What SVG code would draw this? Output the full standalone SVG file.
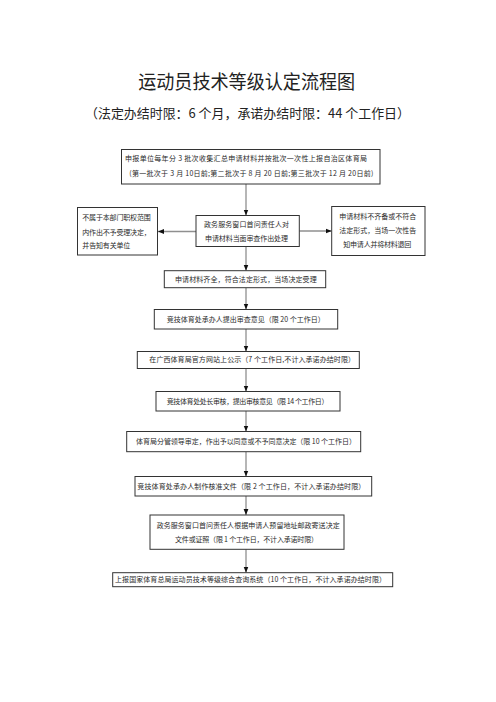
<svg xmlns="http://www.w3.org/2000/svg" width="496" height="702" viewBox="0 0 496 702">
<style>
.bg{fill:#ffffff}
.box{fill:#ffffff;stroke:#333333;stroke-width:1}
.t{font-family:"Noto Sans CJK SC","Noto Sans",sans-serif;font-size:7px;fill:#2a2a2a;lengthAdjust:spacing}
.title{font-family:"Noto Sans CJK SC","Noto Sans",sans-serif;font-size:19.5px;fill:#222222;text-anchor:middle}
.sub{font-family:"Noto Sans CJK SC","Noto Sans",sans-serif;font-size:13px;fill:#222222;text-anchor:middle}
.c{fill:none;stroke:#8f8f8f;stroke-width:1.3;marker-end:url(#ah)}
</style>
<defs>
<marker id="ah" markerUnits="userSpaceOnUse" markerWidth="6" markerHeight="6" viewBox="0 0 6 6" refX="6" refY="3" orient="auto">
<path d="M0,0.6 L6,3 L0,5.4 Z" fill="#111111"/>
</marker>
</defs>
<rect class="bg" x="0" y="0" width="496" height="702"/>
<text class="title" x="246.7" y="89" textLength="217" lengthAdjust="spacingAndGlyphs">运动员技术等级认定流程图</text>
<text class="sub" x="247.5" y="118" textLength="325" lengthAdjust="spacingAndGlyphs">（法定办结时限：6 个月，承诺办结时限：44 个工作日）</text>

<g id="connectors">
<line class="c" x1="246" y1="184" x2="246" y2="215.5"/>
<line class="c" x1="196" y1="231.5" x2="158" y2="231.5"/>
<line class="c" x1="299.3" y1="231" x2="331.7" y2="231"/>
<line class="c" x1="246" y1="246.5" x2="246" y2="270.7"/>
<line class="c" x1="246" y1="287.7" x2="246" y2="309.5"/>
<line class="c" x1="246" y1="329" x2="246" y2="351.5"/>
<line class="c" x1="246" y1="368.3" x2="246" y2="391.5"/>
<line class="c" x1="246" y1="411" x2="246" y2="431.5"/>
<line class="c" x1="246" y1="451.7" x2="246" y2="476.5"/>
<line class="c" x1="246" y1="496" x2="246" y2="515"/>
<line class="c" x1="246" y1="549.3" x2="246" y2="572.7"/>
</g>

<g id="n1">
<rect class="box" x="121.5" y="149.5" width="258.5" height="34.5"/>
<text class="t" x="125" y="161" textLength="242" lengthAdjust="spacing">申报单位每年分 3 批次收集汇总申请材料并按批次一次性上报自治区体育局</text>
<text class="t" x="129.3" y="176" textLength="244" lengthAdjust="spacing">(第一批次于 3 月 10日前;第二批次于 8 月 20 日前;第三批次于 12 月 20日前)</text>
</g>

<g id="n2">
<rect class="box" x="77.5" y="207.5" width="80" height="47.5"/>
<text class="t" x="82.3" y="219.5" textLength="68.4" lengthAdjust="spacing">不属于本部门职权范围</text>
<text class="t" x="82.3" y="234.5" textLength="68.4" lengthAdjust="spacing">内作出不予受理决定，</text>
<text class="t" x="82.3" y="248" textLength="48" lengthAdjust="spacing">并告知有关单位</text>
</g>

<g id="n3">
<rect class="box" x="196" y="215.5" width="103.3" height="31"/>
<text class="t" x="204" y="227" textLength="85" lengthAdjust="spacing">政务服务窗口首问责任人对</text>
<text class="t" x="205" y="241" textLength="83" lengthAdjust="spacing">申请材料当面审查作出处理</text>
</g>

<g id="n4">
<rect class="box" x="331.7" y="206.5" width="93.3" height="49"/>
<text class="t" x="339.3" y="219.4" textLength="77" lengthAdjust="spacing">申请材料不齐备或不符合</text>
<text class="t" x="339.3" y="233.4" textLength="77" lengthAdjust="spacing">法定形式，当场一次性告</text>
<text class="t" x="343.3" y="247.4" textLength="68" lengthAdjust="spacing">知申请人并将材料退回</text>
</g>

<g id="n5">
<rect class="box" x="164.3" y="270.7" width="161.4" height="17"/>
<text class="t" x="175" y="281.7" textLength="141.7" lengthAdjust="spacing">申请材料齐全，符合法定形式，当场决定受理</text>
</g>

<g id="n6">
<rect class="box" x="154.3" y="309.5" width="183.4" height="19.5"/>
<text class="t" x="166.7" y="322" textLength="158" lengthAdjust="spacing">竞技体育处承办人提出审查意见（限 20 个工作日）</text>
</g>

<g id="n7">
<rect class="box" x="137.3" y="351.5" width="222" height="17"/>
<text class="t" x="149.3" y="362.2" textLength="205.7" lengthAdjust="spacing">在广西体育局官方网站上公示（7 个工作日,不计入承诺办结时限）</text>
</g>

<g id="n8">
<rect class="box" x="156" y="391.5" width="184" height="19.5"/>
<text class="t" x="166.7" y="404.2" textLength="161.7" lengthAdjust="spacing">竞技体育处处长审核，提出审核意见（限 14 个工作日）</text>
</g>

<g id="n9">
<rect class="box" x="126.7" y="431.5" width="234" height="20.2"/>
<text class="t" x="136" y="444.4" textLength="220" lengthAdjust="spacing">体育局分管领导审定，作出予以同意或不予同意决定（限 10 个工作日）</text>
</g>

<g id="n10">
<rect class="box" x="135" y="476.5" width="236.7" height="19.5"/>
<text class="t" x="137.3" y="489.2" textLength="228" lengthAdjust="spacing">竞技体育处承办人制作核准文件（限 2 个工作日，不计入承诺办结时限）</text>
</g>

<g id="n11">
<rect class="box" x="150" y="515" width="194" height="34.3"/>
<text class="t" x="156.7" y="527.7" textLength="183" lengthAdjust="spacing">政务服务窗口首问责任人根据申请人预留地址邮政寄送决定</text>
<text class="t" x="175" y="541.7" textLength="143" lengthAdjust="spacing">文件或证照（限 1 个工作日，不计入承诺时限）</text>
</g>

<g id="n12">
<rect class="box" x="112.7" y="572.7" width="280" height="14"/>
<text class="t" x="115" y="582.2" textLength="271" lengthAdjust="spacing">上报国家体育总局运动员技术等级综合查询系统（10 个工作日，不计入承诺办结时限）</text>
</g>
</svg>
